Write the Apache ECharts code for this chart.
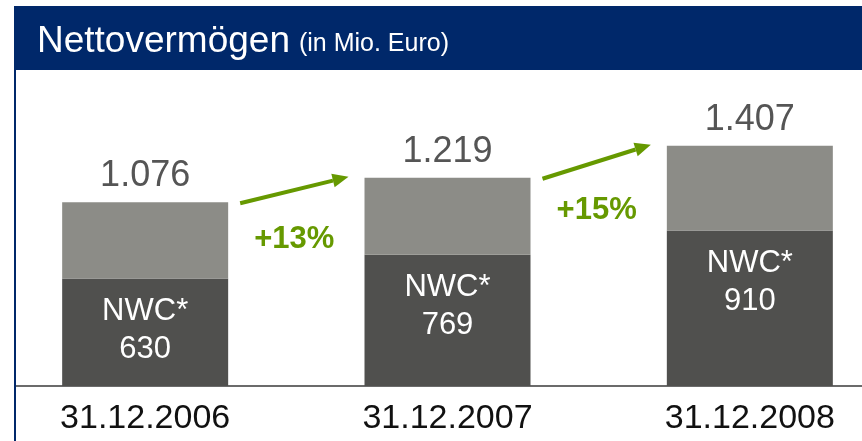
<!DOCTYPE html>
<html>
<head>
<meta charset="utf-8">
<script src="https://cdn.jsdelivr.net/npm/echarts@6/dist/echarts.min.js"></script>
<style>
  html, body { margin: 0; padding: 0; background: #fff; overflow: hidden; }
  /* etwas breiter als das Fenster, damit die Balkenabstände passen */
  #chart { position: absolute; left: -6px; top: 0; width: 907px; height: 441px; }
</style>
</head>
<body>
<div id="chart"></div>
<script>
// Daten (in Mio. Euro)
const categories = ['31.12.2006', '31.12.2007', '31.12.2008']
const nwcValues = [630, 769, 910]
const totalValues = [1076, 1219, 1407]
const growthLabels = ['+13%', '+15%']
// Rest = Gesamt - NWC
const restValues = totalValues.map((t, i) => t - nwcValues[i])

const NAVY = '#00286a'
const GREEN = '#669900'
const FONT = '"Liberation Sans", Arial, sans-serif'
const OFF = 6 // Versatz des Containers

const chart = echarts.init(document.getElementById('chart'))

const option = {
  animation: false,
  textStyle: { fontFamily: FONT },
  title: {
    text: '{a|Nettovermögen} {b|(in Mio. Euro)}',
    left: 37 + OFF - 5,
    top: 18,
    z: 200,
    textStyle: {
      fontWeight: 'normal',
      rich: {
        a: { color: '#fff', fontSize: 37, fontWeight: 'normal', fontFamily: FONT },
        b: { color: '#fff', fontSize: 25, fontWeight: 'normal', fontFamily: FONT, padding: [6, 0, 0, 4] }
      }
    }
  },
  grid: { left: 0, right: 0, top: 70, bottom: 55 },
  xAxis: {
    type: 'category',
    data: categories,
    axisTick: { show: false },
    axisLine: { lineStyle: { color: '#6b6b6b', width: 2 } },
    axisLabel: { color: '#111', fontSize: 34, margin: 16, fontFamily: FONT }
  },
  yAxis: {
    type: 'value',
    min: 0,
    max: 1850,
    show: false,
    splitLine: { show: false }
  },
  series: [
    {
      name: 'NWC',
      type: 'bar',
      stack: 'total',
      barWidth: 166,
      data: nwcValues,
      itemStyle: { color: '#50504e' },
      label: {
        show: true,
        position: 'insideTop',
        distance: 14,
        color: '#fff',
        fontSize: 31,
        lineHeight: 38,
        fontFamily: FONT,
        formatter: p => 'NWC*\n' + p.value
      }
    },
    {
      name: 'Rest',
      type: 'bar',
      stack: 'total',
      barWidth: 166,
      data: restValues,
      itemStyle: { color: '#8c8c87' },
      label: {
        show: true,
        position: 'top',
        distance: 8,
        color: '#555',
        fontSize: 36,
        fontFamily: FONT,
        formatter: p => totalValues[p.dataIndex].toLocaleString('de-DE')
      }
    }
  ],
  graphic: [
    { type: 'rect', z: 100, shape: { x: 14 + OFF, y: 6, width: 900, height: 64 }, style: { fill: NAVY } },
    { type: 'rect', z: 100, shape: { x: 0, y: 70, width: 14 + OFF, height: 371 }, style: { fill: '#fff' } },
    { type: 'rect', z: 101, shape: { x: 14 + OFF, y: 70, width: 2, height: 371 }, style: { fill: NAVY } }
  ]
}
chart.setOption(option)

// Wachstumspfeile zwischen den Balkenoberkanten
const half = 83
const arrows = []
for (let i = 0; i < growthLabels.length; i++) {
  const a = chart.convertToPixel({ gridIndex: 0 }, [i, totalValues[i]])
  const b = chart.convertToPixel({ gridIndex: 0 }, [i + 1, totalValues[i + 1]])
  const x1 = a[0] + half + 12, y1 = a[1] + 1
  const x2 = b[0] - half - 16, y2 = b[1] - 1
  const ang = Math.atan2(y2 - y1, x2 - x1)
  const hl = 16, hw = 7
  const bx = x2 - hl * Math.cos(ang), by = y2 - hl * Math.sin(ang)
  const nx = -Math.sin(ang) * hw, ny = Math.cos(ang) * hw
  arrows.push({
    type: 'line', z: 150,
    shape: { x1: x1, y1: y1, x2: bx, y2: by },
    style: { stroke: GREEN, lineWidth: 4 }
  })
  arrows.push({
    type: 'polygon', z: 150,
    shape: { points: [[x2, y2], [bx + nx, by + ny], [bx - nx, by - ny]] },
    style: { fill: GREEN }
  })
  arrows.push({
    type: 'text', z: 150,
    x: (x1 + x2) / 2, y: (y1 + y2) / 2 + 49,
    style: {
      text: growthLabels[i], fill: GREEN, font: 'bold 31px ' + FONT,
      textAlign: 'center', textVerticalAlign: 'middle'
    }
  })
}
chart.setOption({ graphic: option.graphic.concat(arrows) })
</script>
</body>
</html>
